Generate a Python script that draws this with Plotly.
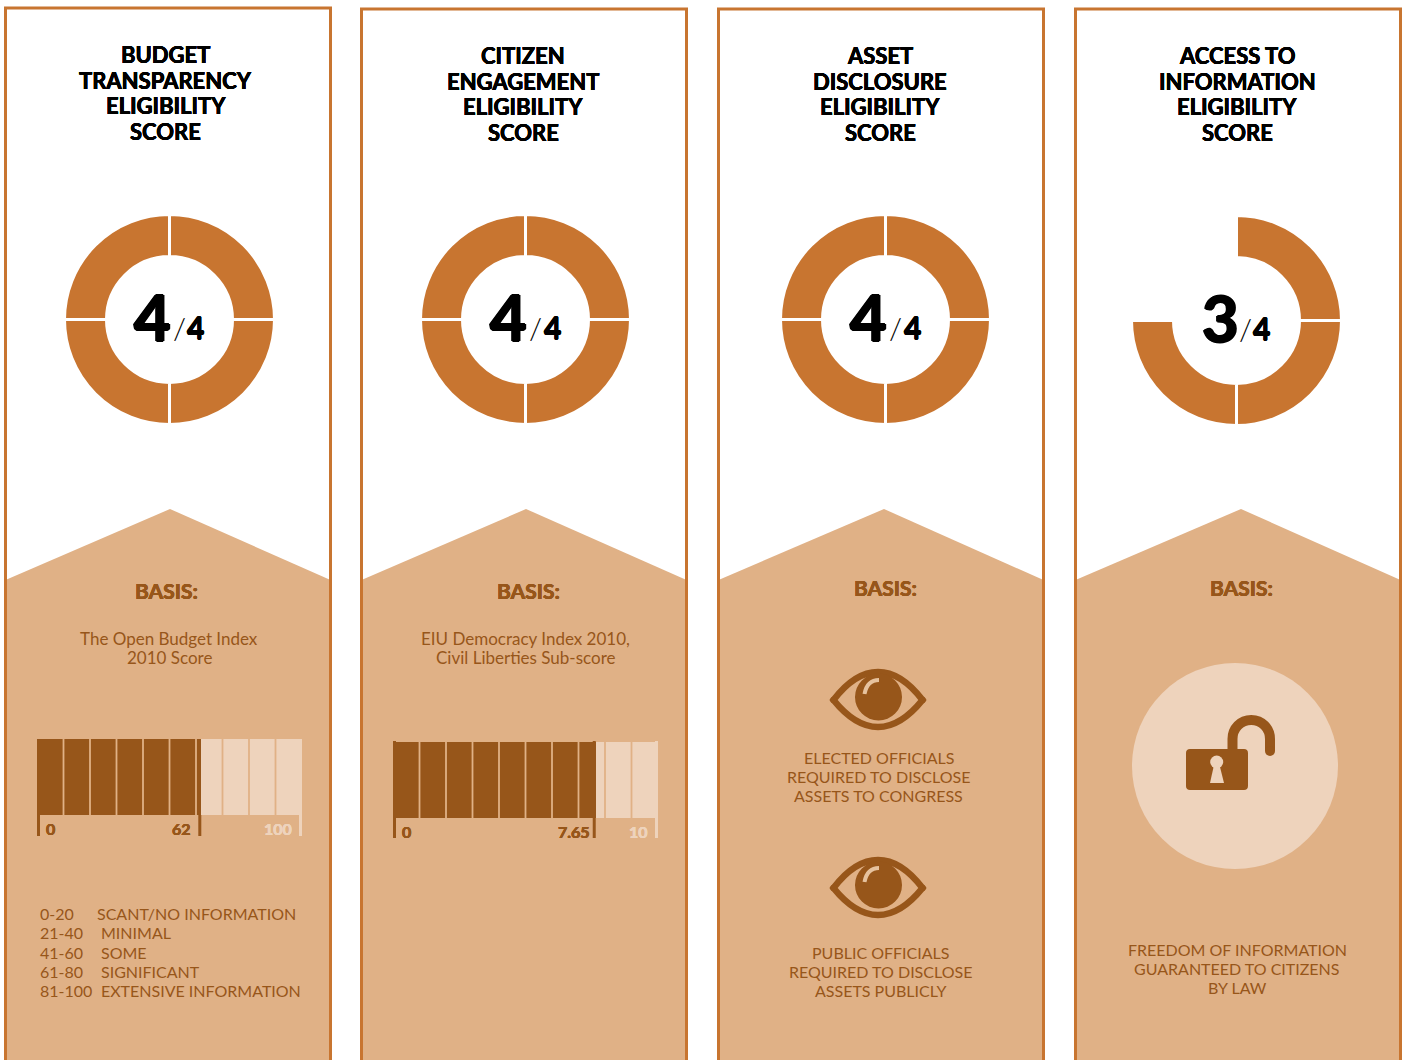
import plotly.graph_objects as go

WIDTH, HEIGHT = 1407, 1060
ORANGE, TAN, DARK, LIGHT = "#C87530", "#E0B186", "#97561A", "#EED3BC"
FAMILY = "Lato"

# Eligibility scores
titles = [
    ["BUDGET", "TRANSPARENCY", "ELIGIBILITY", "SCORE"],
    ["CITIZEN", "ENGAGEMENT", "ELIGIBILITY", "SCORE"],
    ["ASSET", "DISCLOSURE", "ELIGIBILITY", "SCORE"],
    ["ACCESS TO", "INFORMATION", "ELIGIBILITY", "SCORE"],
]
scores = [4, 4, 4, 3]
score_max = 4

# Basis bars
bar_values = [62, 7.65]
bar_maxima = [100, 10]
bar_value_labels = ["62", "7.65"]
bar_max_labels = ["100", "10"]

# Basis captions
budget_caption = ["The Open Budget Index", "2010 Score"]
citizen_caption = ["EIU Democracy Index 2010,", "Civil Liberties Sub-score"]
elected_caption = ["ELECTED OFFICIALS", "REQUIRED TO DISCLOSE", "ASSETS TO CONGRESS"]
public_caption = ["PUBLIC OFFICIALS", "REQUIRED TO DISCLOSE", "ASSETS PUBLICLY"]
access_caption = ["FREEDOM OF INFORMATION", "GUARANTEED TO CITIZENS", "BY LAW"]
index_ranges = ["0-20", "21-40", "41-60", "61-80", "81-100"]
index_names = ["SCANT/NO INFORMATION", "MINIMAL", "SOME", "SIGNIFICANT", "EXTENSIVE INFORMATION"]

# Page geometry of the four cards
card_left = [5.5, 361.5, 718.5, 1075.5]
card_top = [8, 9, 9, 9]
peak_x = [170, 526, 884, 1241]
title_x = [165.5, 523, 880, 1237]
title_y = [[54, 80, 105, 131], [55, 81, 106, 132], [55, 81, 106, 132], [55, 81, 106, 132]]
basis_xy = [(166.5, 590), (528, 590), (885, 587), (1241, 587)]
ring_center = [(169.5, 319.5), (525.5, 319.5), (885.5, 319.5), (1236.5, 320.5)]
score_x = [(152, 179, 195.5), (508, 535, 552), (868, 895, 912), (1220, 1245, 1261.5)]
bar_boxes = [(37, 302, 739, 815, 836), (393, 658, 742, 818, 838)]
value_label_shift = [-8, -4]

fig = go.Figure()
shapes, notes = [], []


def outline(px, color):
    # Emboldens a face that stops at Bold by smearing it sideways and vertically
    return f"{px}px 0 0 {color}, -{px}px 0 0 {color}, 0 {px}px 0 {color}, 0 -{px}px 0 {color}"


def note(x, y, text, size=16, color=DARK, weight=400, anchor="center", heavy=0):
    font = dict(family=FAMILY, size=size, color=color, weight=weight)
    if heavy:
        font["shadow"] = outline(heavy, color)
    notes.append(dict(x=x, y=y, xref="x", yref="y", text=text, showarrow=False, xanchor=anchor,
                      yanchor="middle", align=anchor, borderpad=0, font=font))


def path(d, fill=None, line=None, width=0):
    shapes.append(dict(type="path", xref="x", yref="y", path=d, fillcolor=fill or "rgba(0,0,0,0)",
                       line=dict(color=line or "rgba(0,0,0,0)", width=width), layer="above"))


def disc(cx, cy, r, fill):
    shapes.append(dict(type="circle", xref="x", yref="y", x0=cx - r, x1=cx + r, y0=cy - r, y1=cy + r,
                       fillcolor=fill, line=dict(width=0), layer="above"))


def eye(cx, cy):
    # Almond outline, iris and glint
    path(f"M{cx-44.5},{cy} C{cx-30},{cy-19} {cx-16},{cy-28} {cx},{cy-28} "
         f"C{cx+16},{cy-28} {cx+30},{cy-19} {cx+44.5},{cy} "
         f"C{cx+30},{cy+18} {cx+16},{cy+27} {cx},{cy+27} "
         f"C{cx-16},{cy+27} {cx-30},{cy+18} {cx-44.5},{cy} Z", line=DARK, width=6.5)
    disc(cx - 44.5, cy, 3.2, DARK)
    disc(cx + 44.5, cy, 3.2, DARK)
    disc(cx + 0.5, cy - 3, 23.5, DARK)
    path(f"M{cx-13.5},{cy-6} C{cx-12},{cy-14} {cx-8},{cy-20} {cx+1},{cy-20}", line="#E6C29E", width=4)


# Card frames with their chevron-topped lower part
for left, top, peak in zip(card_left, card_top, peak_x):
    right = left + 325
    shapes.append(dict(type="path", xref="x", yref="y", layer="below", fillcolor=TAN, line=dict(width=0),
                       path=f"M{left},580 L{peak},509 L{right},580 L{right},1062 L{left},1062 Z"))
    shapes.append(dict(type="rect", xref="x", yref="y", layer="below", x0=left, x1=right, y0=top, y1=1075,
                       fillcolor="rgba(0,0,0,0)", line=dict(color=ORANGE, width=3)))

# Score rings, one slice per point with unearned points left blank
for score, (cx, cy) in zip(scores, ring_center):
    radius = 105
    colors = [ORANGE] * score + ["#FFFFFF"] * (score_max - score)
    fig.add_trace(go.Pie(
        values=[1] * score_max, sort=False, direction="clockwise", rotation=0, hole=0.60,
        marker=dict(colors=colors, line=dict(color="#FFFFFF", width=3)),
        textinfo="none", hoverinfo="skip", showlegend=False,
        domain=dict(x=[(cx - radius) / WIDTH, (cx + radius) / WIDTH],
                    y=[1 - (cy + radius) / HEIGHT, 1 - (cy - radius) / HEIGHT]),
    ))

# Card headings and score figures
for i in range(4):
    for line, y in zip(titles[i], title_y[i]):
        note(title_x[i], y, line, size=22, color="#000000", weight=700, heavy=0.3)
    note(basis_xy[i][0], basis_xy[i][1], "BASIS:", size=21, weight=700, heavy=0.3)
    big_x, slash_x, small_x = score_x[i]
    cy = ring_center[i][1]
    note(big_x, cy - 3, str(scores[i]), size=63, color="#000000", weight=700, heavy=1.3)
    note(slash_x, cy + 7, "/", size=30, color="#000000", weight=300)
    note(small_x, cy + 7, str(score_max), size=30, color="#000000", weight=700, heavy=0.6)

# Basis bars: value and remainder stacked on a linear scale, split every tenth
for i, (value, top_value) in enumerate(zip(bar_values, bar_maxima)):
    x0, x1, y0, y1, tick_end = bar_boxes[i]
    n = i + 2
    xa, ya = f"x{n}", f"y{n}"
    fig.add_trace(go.Bar(x=[value], y=["score"], orientation="h", marker=dict(color=DARK, line=dict(width=0)),
                         xaxis=xa, yaxis=ya, hoverinfo="skip", showlegend=False))
    fig.add_trace(go.Bar(x=[top_value - value], y=["score"], orientation="h", marker=dict(color=LIGHT, line=dict(width=0)),
                         xaxis=xa, yaxis=ya, hoverinfo="skip", showlegend=False))
    axis = dict(visible=False, fixedrange=True)
    fig.update_layout({
        f"xaxis{n}": dict(axis, domain=[x0 / WIDTH, x1 / WIDTH], range=[0, top_value], anchor=ya),
        f"yaxis{n}": dict(axis, domain=[1 - y1 / HEIGHT, 1 - y0 / HEIGHT], anchor=xa, range=[-0.5, 0.5]),
    })
    for k in range(1, 10):
        pos = top_value * k / 10
        shapes.append(dict(type="line", xref=xa, yref=ya, x0=pos, x1=pos, y0=-0.5, y1=0.5,
                           line=dict(color=TAN, width=1.8), layer="above"))
    # Tick feet under the bar, with a small tab above it on the second scale
    for pos, start, end, color in ((0, 0, 3, DARK), (value, -3, 0, DARK), (top_value, -3, 0, LIGHT)):
        shapes.append(dict(type="rect", xref=xa, yref="y", xsizemode="pixel", xanchor=pos, x0=start, x1=end,
                           y0=y1, y1=tick_end, fillcolor=color, line=dict(width=0), layer="above"))
        if i == 1:
            shapes.append(dict(type="rect", xref=xa, yref="y", xsizemode="pixel", xanchor=pos, x0=start, x1=end,
                               y0=y0 - 1, y1=y0, fillcolor=color, line=dict(width=0), layer="above"))
    label_y = (y1 + tick_end) / 2 + 3
    note(x0 + 13, label_y, "0", size=16, weight=700, heavy=0.3)
    for pos, text, shift, color in ((value, bar_value_labels[i], value_label_shift[i], DARK),
                                    (top_value, bar_max_labels[i], -8, LIGHT)):
        notes.append(dict(x=pos, y=label_y, xref=xa, yref="y", text=text, showarrow=False,
                          xanchor="right", xshift=shift,
                          font=dict(family=FAMILY, size=16, color=color, weight=700, shadow=outline(0.3, color))))

# Captions
for line, y in zip(budget_caption, (638, 657)):
    note(169, y, line, size=17)
for line, y in zip(citizen_caption, (638, 657)):
    note(525, y, line, size=17)
for line, y in zip(elected_caption, (757, 776, 795)):
    note(878.5, y, line)
for line, y in zip(public_caption, (952, 971, 990)):
    note(880, y, line)
for line, y in zip(access_caption, (949, 968, 987)):
    note(1237, y, line)
for rng, name, y, name_x in zip(index_ranges, index_names, (913, 932, 952, 971, 990), (95.5, 99.5, 99.5, 99.5, 99.5)):
    note(38.5, y, rng, anchor="left")
    note(name_x, y, name, anchor="left")

# Asset disclosure icons
eye(878, 700)
eye(878, 888)

# Open padlock on a pale disc
disc(1235, 766, 103, LIGHT)
path("M1232.5,752 L1232.5,739 C1232.5,728.5 1240.5,720 1251.25,720 "
     "C1262,720 1270,728.5 1270,739 L1270,751", line=DARK, width=10)
disc(1270, 751, 5, DARK)
path("M1190,749 L1244,749 C1246.5,749 1248,750.5 1248,753 L1248,786 C1248,788.5 1246.5,790 1244,790 "
     "L1190,790 C1187.5,790 1186,788.5 1186,786 L1186,753 C1186,750.5 1187.5,749 1190,749 Z", fill=DARK)
disc(1216.7, 762, 6.5, LIGHT)
path("M1214,765 L1210,783 L1224,783 L1219.5,765 Z", fill=LIGHT)

fig.update_layout(
    width=WIDTH, height=HEIGHT, margin=dict(l=0, r=0, t=0, b=0), autosize=False,
    paper_bgcolor="#FFFFFF", plot_bgcolor="rgba(0,0,0,0)", barmode="stack", bargap=0,
    xaxis=dict(visible=False, range=[0, WIDTH], domain=[0, 1], fixedrange=True),
    yaxis=dict(visible=False, range=[HEIGHT, 0], domain=[0, 1], fixedrange=True),
    shapes=shapes, annotations=notes, showlegend=False,
)
fig.write_html("out.html", config=dict(displayModeBar=False))
